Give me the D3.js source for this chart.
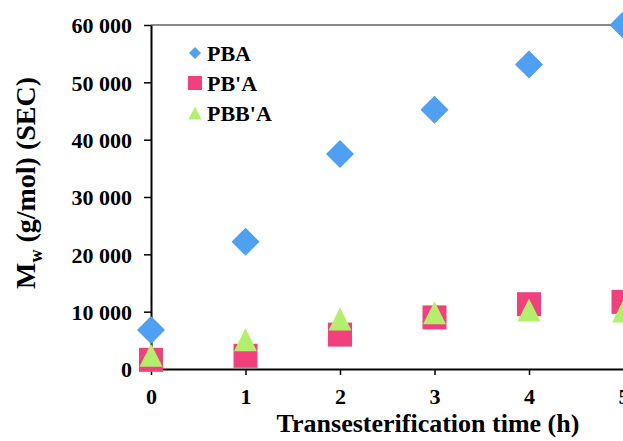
<!DOCTYPE html>
<html><head><meta charset="utf-8">
<script src="https://cdn.jsdelivr.net/npm/d3@7/dist/d3.min.js"></script>
<style>html,body{margin:0;padding:0;background:#fff;overflow:hidden}</style>
</head><body>
<svg id="chart" width="623" height="441"></svg>
<script>
const times = [0, 1, 2, 3, 4, 5];
const pba = [6800, 22200, 37500, 45200, 53100, 60000];
const pbpa = [1600, 2300, 6000, 9000, 11300, 11700];
const pbbpa = [2400, 5100, 8700, 9800, 10300, 10100];
const yTicks = [0, 10000, 20000, 30000, 40000, 50000, 60000];
const seriesNames = ["PBA", "PB'A", "PBB'A"];
const colors = ["#4f9ff2", "#f2407e", "#b2f06c"];

const svg = d3.select("#chart");
const font = "'Liberation Serif','Times New Roman',serif";
const x = d3.scaleLinear().domain([0, 5]).range([151, 623.5]);
const y = d3.scaleLinear().domain([0, 60000]).range([369, 25]);

// top border
svg.append("line").attr("x1", 151).attr("x2", 623).attr("y1", y(60000)).attr("y2", y(60000))
  .attr("stroke", "#8a8a8a").attr("stroke-width", 2);

const fmt = d => d === 0 ? "0" : d3.format(",")(d).replace(",", " ");

const yAxis = svg.append("g").attr("transform", "translate(151,0)")
  .call(d3.axisLeft(y).tickValues(yTicks).tickFormat(fmt).tickSizeOuter(0).tickSizeInner(7).tickPadding(12));
const xAxis = svg.append("g").attr("transform", "translate(0,369)")
  .call(d3.axisBottom(x).tickValues(times).tickFormat(d3.format("d")).tickSizeOuter(0).tickSizeInner(6).tickPadding(13));
[yAxis, xAxis].forEach(g => {
  g.selectAll("path.domain").attr("stroke", "#000").attr("stroke-width", 2);
  g.selectAll(".tick line").attr("stroke", "#000").attr("stroke-width", 1.5);
  g.selectAll("text").attr("font-family", font).attr("font-weight", "bold").attr("font-size", 22).attr("fill", "#000");
});
yAxis.selectAll("text").attr("dy", "0.35em");

// markers
const diamond = s => `M0,${-s}L${s},0L0,${s}L${-s},0Z`;
const square = s => `M${-s},${-s}H${s}V${s}H${-s}Z`;
const tri = s => `M0,${-s}L${s},${s}L${-s},${s}Z`;

svg.append("g").selectAll("path").data(times).join("path")
  .attr("d", diamond(14)).attr("fill", colors[0])
  .attr("transform", (d, i) => `translate(${x(d)},${y(pba[i])})`);
svg.append("g").selectAll("path").data(times).join("path")
  .attr("d", square(12)).attr("fill", colors[1])
  .attr("transform", (d, i) => `translate(${x(d)},${y(pbpa[i])})`);
svg.append("g").selectAll("path").data(times).join("path")
  .attr("d", tri(11.5)).attr("fill", colors[2])
  .attr("transform", (d, i) => `translate(${x(d)},${y(pbbpa[i])})`);

// legend
const shapes = [diamond(6), square(7), tri(6.5)];
const lg = svg.append("g");
seriesNames.forEach((n, i) => {
  const cy = 53 + i * 30;
  lg.append("path").attr("d", shapes[i]).attr("fill", colors[i]).attr("transform", `translate(195,${cy})`);
  lg.append("text").attr("x", 207).attr("y", cy).attr("dy", "0.35em").text(n)
    .attr("font-family", font).attr("font-weight", "bold").attr("font-size", 22).attr("fill", "#000");
});

// axis titles
svg.append("text").attr("x", 428).attr("y", 432).attr("text-anchor", "middle")
  .attr("font-family", font).attr("font-weight", "bold").attr("font-size", 26).attr("fill", "#000")
  .text("Transesterification time (h)");
const yt = svg.append("text").attr("transform", "translate(35,183) rotate(-90)").attr("text-anchor", "middle")
  .attr("font-family", font).attr("font-weight", "bold").attr("font-size", 28).attr("fill", "#000");
yt.append("tspan").text("M");
yt.append("tspan").attr("dy", 7).attr("font-size", 18).text("w");
yt.append("tspan").attr("dy", -7).text(" (g/mol) (SEC)");
</script>
</body></html>
